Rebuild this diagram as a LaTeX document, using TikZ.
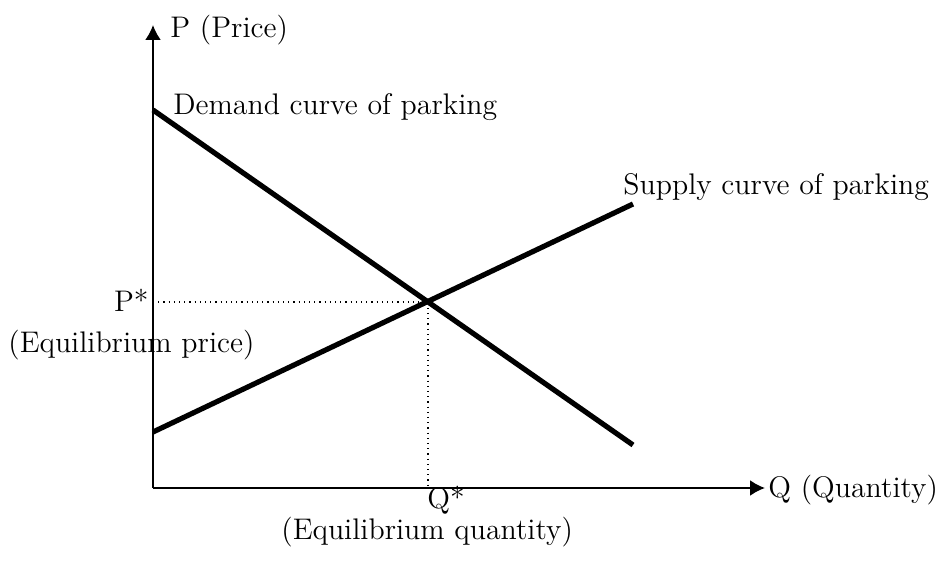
\documentclass[tikz,border=0pt]{standalone}
\usepackage{tikz}
\usetikzlibrary{arrows.meta,positioning}

\begin{document}
\begin{tikzpicture}[x=0.5pt,y=-0.5pt,
    lbl/.style={inner sep=0pt,font=\fontsize{14.9}{17}\selectfont},
    axis/.style={line width=1pt,-{Latex[length=7.5pt,width=8pt]}},
    curve/.style={line width=2.6pt},
    guide/.style={line width=0.6pt,dotted}]
     \useasboundingbox (0,0) rectangle (936,565);
     \coordinate (O) at (153,488);
     \coordinate (ytop) at (153,25);
     \coordinate (xend) at (765,488);
     \coordinate (d1) at (153,110);
     \coordinate (d2) at (633,445);
     \coordinate (s1) at (153,432);
     \coordinate (s2) at (633,204);
     \coordinate (E) at (428,302);
     \coordinate (Pstar) at (153,302);
     \coordinate (Qstar) at (428,488);
     \draw[axis] (O)--(ytop);
     \draw[axis] (O)--(xend);
     \draw[curve] (d1)--(d2);
     \draw[curve] (s1)--(s2);
     \draw[guide] (Pstar)--(E)--(Qstar);
     \node[lbl,anchor=base west] (ylab) at (170,38) {P (Price)};
     \node[lbl,anchor=base west] (xlab) at (768,498) {Q (Quantity)};
     \node[lbl,anchor=base west] (dlab) at (173,115) {Demand curve of parking};
     \node[lbl,anchor=base west] (slab) at (623,195) {Supply curve of parking};
     \node[lbl,anchor=base east] (plab) at (149,312) {P*};
     \node[lbl,anchor=base west] (peq) at (8,353) {(Equilibrium price)};
     \node[lbl,anchor=base west] (qlab) at (427,509) {Q*};
     \node[lbl,anchor=base west] (qeq) at (281,540) {(Equilibrium quantity)};
   \end{tikzpicture}
\end{document}
